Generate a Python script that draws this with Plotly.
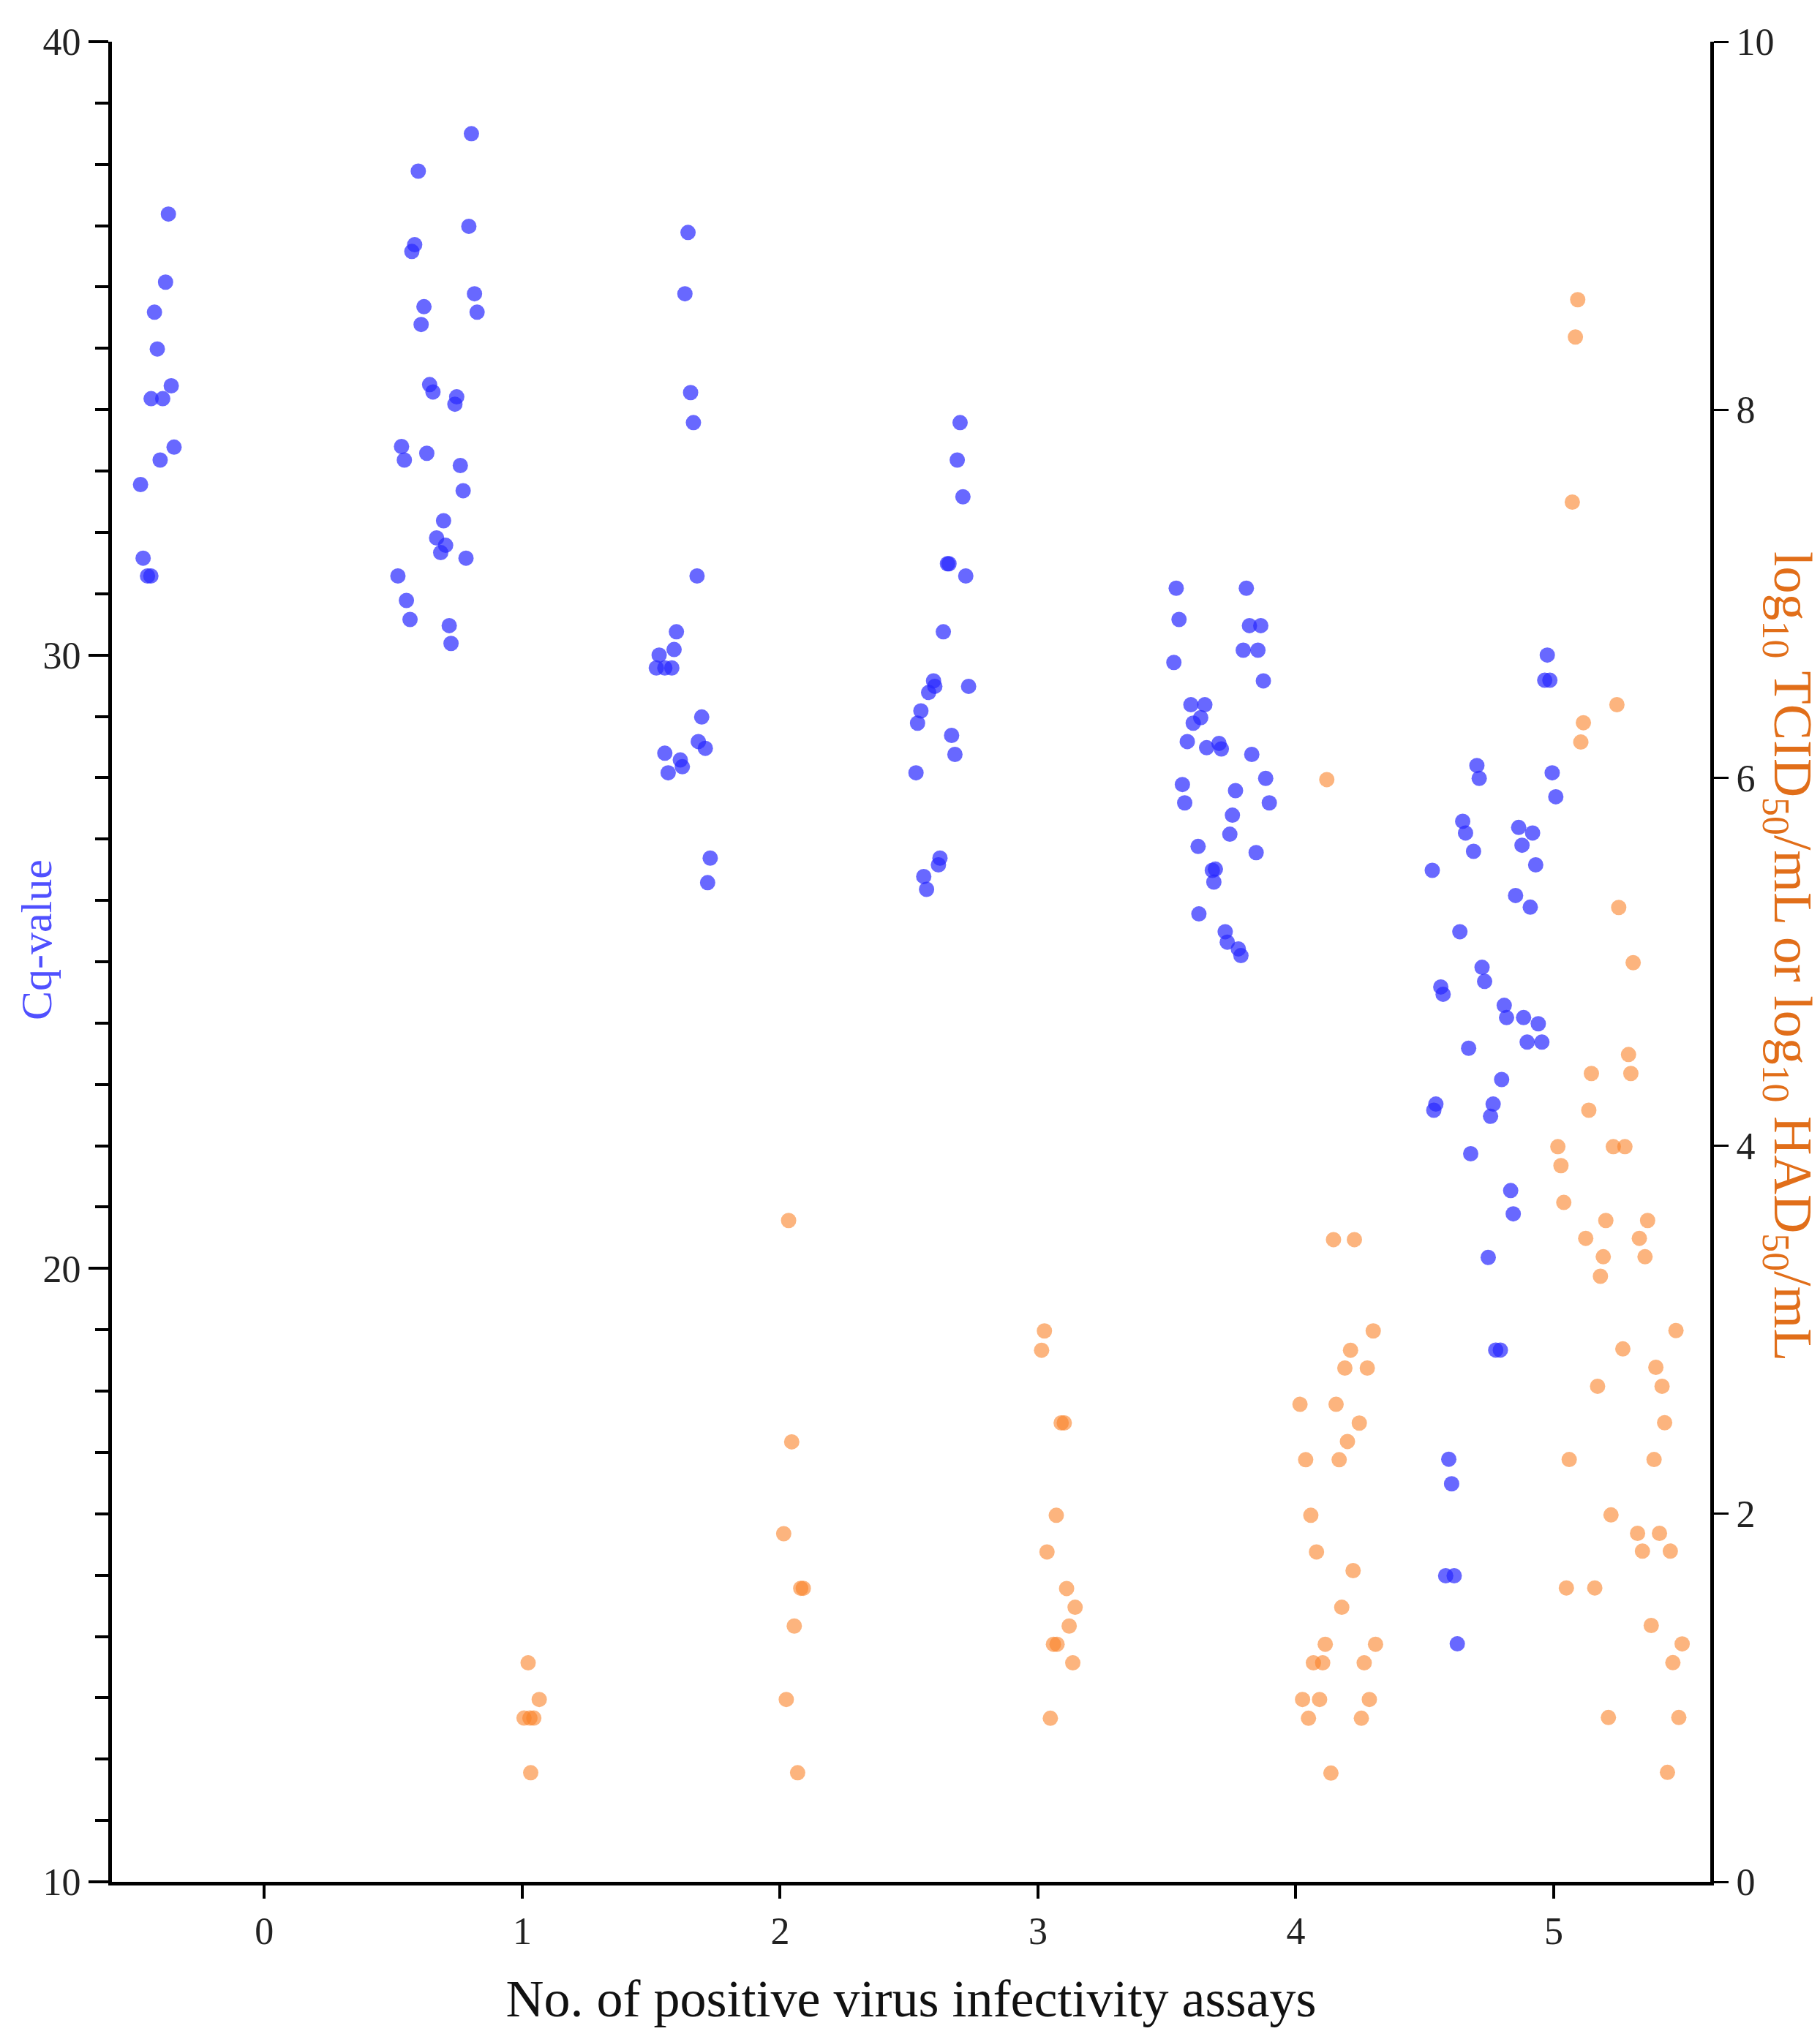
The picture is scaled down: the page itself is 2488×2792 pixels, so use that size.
import plotly.graph_objects as go

# ---------------- Cq-values (left axis), one list pair per jittered group ----------------
cq_x_a = [-0.372, -0.383, -0.426, -0.415, -0.361, -0.439, -0.394, -0.350, -0.404, -0.480, -0.470, -0.453, -0.440]
cq_y_a = [37.19, 36.08, 35.59, 34.99, 34.39, 34.18, 34.18, 33.39, 33.18, 32.78, 31.58, 31.29, 31.29]

cq_x_b = [0.803, 0.597, 0.793, 0.583, 0.572, 0.815, 0.825, 0.619, 0.608, 0.641, 0.654, 0.746, 0.739, 0.532,
          0.543, 0.630, 0.760, 0.771, 0.695, 0.668, 0.703, 0.684, 0.782, 0.518, 0.551, 0.565, 0.717, 0.724]
cq_y_b = [38.50, 37.89, 36.99, 36.69, 36.58, 35.89, 35.59, 35.68, 35.39, 34.41, 34.29, 34.21, 34.09, 33.40,
          33.18, 33.29, 33.09, 32.68, 32.19, 31.91, 31.79, 31.67, 31.58, 31.29, 30.89, 30.58, 30.48, 30.19]

cq_x_c = [1.643, 1.631, 1.653, 1.664, 1.678, 1.598, 1.589, 1.531, 1.520, 1.553, 1.580, 1.696, 1.683, 1.710,
          1.553, 1.613, 1.621, 1.566, 1.729, 1.719]
cq_y_c = [36.89, 35.89, 34.28, 33.79, 31.29, 30.38, 30.09, 30.00, 29.79, 29.79, 29.79, 28.99, 28.59, 28.48,
          28.40, 28.29, 28.18, 28.08, 26.69, 26.29]

cq_x_d = [2.698, 2.687, 2.709, 2.649, 2.655, 2.720, 2.633, 2.595, 2.600, 2.576, 2.731, 2.546, 2.533, 2.665,
          2.678, 2.527, 2.620, 2.614, 2.557, 2.568]
cq_y_d = [33.79, 33.18, 32.58, 31.49, 31.49, 31.29, 30.38, 29.58, 29.49, 29.39, 29.49, 29.09, 28.89, 28.69,
          28.38, 28.08, 26.69, 26.58, 26.39, 26.18]

cq_x_e = [3.536, 3.808, 3.547, 3.820, 3.864, 3.796, 3.853, 3.527, 3.874, 3.593, 3.647, 3.631, 3.602, 3.579,
          3.654, 3.702, 3.711, 3.829, 3.560, 3.883, 3.766, 3.569, 3.897, 3.754, 3.744, 3.621, 3.846, 3.676,
          3.688, 3.682, 3.624, 3.726, 3.734, 3.777, 3.787]
cq_y_e = [31.09, 31.09, 30.58, 30.48, 30.48, 30.08, 30.08, 29.88, 29.58, 29.19, 29.19, 28.98, 28.89, 28.59,
          28.49, 28.56, 28.47, 28.38, 27.89, 27.99, 27.79, 27.59, 27.59, 27.39, 27.08, 26.88, 26.78, 26.49,
          26.51, 26.30, 25.78, 25.49, 25.32, 25.21, 25.10]

cq_x_f = [4.975, 4.965, 4.985, 4.702, 4.711, 4.994, 5.008, 4.647, 4.658, 4.689, 4.529, 4.864, 4.918, 4.877,
          4.930, 4.852, 4.909, 4.636, 4.722, 4.732, 4.562, 4.571, 4.808, 4.817, 4.883, 4.940, 4.897, 4.954,
          4.670, 4.798, 4.543, 4.535, 4.765, 4.755, 4.678, 4.833, 4.843, 4.746, 4.775, 4.793, 4.593, 4.604,
          4.581, 4.614, 4.626]
cq_y_f = [30.00, 29.59, 29.59, 28.20, 27.99, 28.08, 27.69, 27.29, 27.10, 26.80, 26.49, 27.19, 27.10, 26.90,
          26.58, 26.08, 25.89, 25.49, 24.91, 24.68, 24.59, 24.47, 24.29, 24.09, 24.09, 23.99, 23.69, 23.69,
          23.59, 23.08, 22.68, 22.58, 22.68, 22.48, 21.87, 21.27, 20.89, 20.18, 18.67, 18.67, 16.89, 16.49,
          14.99, 14.99, 13.88]

# ---------------- Titres (right axis) ----------------
ti_x_1 = [1.023, 1.066, 1.007, 1.045, 1.030, 1.033]
ti_y_1 = [1.190, 0.991, 0.890, 0.890, 0.890, 0.593]

ti_x_2 = [2.033, 2.045, 2.014, 2.080, 2.090, 2.055, 2.024, 2.068]
ti_y_2 = [3.594, 2.391, 1.892, 1.595, 1.595, 1.390, 0.991, 0.593]

ti_x_3 = [3.025, 3.014, 3.090, 3.102, 3.071, 3.035, 3.111, 3.144, 3.121, 3.060, 3.074, 3.135, 3.048]
ti_y_3 = [2.994, 2.889, 2.494, 2.494, 1.992, 1.793, 1.594, 1.492, 1.390, 1.291, 1.291, 1.190, 0.889]

ti_x_4 = [4.120, 4.146, 4.227, 4.300, 4.212, 4.190, 4.277, 4.016, 4.156, 4.246, 4.200, 4.038, 4.168, 4.058,
          4.080, 4.222, 4.178, 4.114, 4.309, 4.068, 4.104, 4.265, 4.026, 4.092, 4.285, 4.049, 4.254, 4.136]
ti_y_4 = [5.99, 3.49, 3.49, 2.994, 2.889, 2.792, 2.792, 2.595, 2.595, 2.493, 2.393, 2.294, 2.294, 1.992,
          1.793, 1.691, 1.492, 1.291, 1.291, 1.190, 1.190, 1.190, 0.991, 0.991, 0.991, 0.889, 0.889, 0.591]

ti_x_5 = [5.093, 5.084, 5.072, 5.245, 5.115, 5.105, 5.252, 5.308, 5.290, 5.299, 5.146, 5.136, 5.016, 5.231,
          5.276, 5.028, 5.039, 5.202, 5.364, 5.124, 5.332, 5.192, 5.354, 5.181, 5.474, 5.268, 5.396, 5.420,
          5.170, 5.430, 5.060, 5.389, 5.222, 5.325, 5.410, 5.344, 5.452, 5.049, 5.159, 5.378, 5.498, 5.462,
          5.212, 5.485, 5.441]
ti_y_5 = [8.598, 8.395, 7.498, 6.397, 6.299, 6.194, 5.295, 4.995, 4.496, 4.393, 4.393, 4.193, 3.995, 3.995,
          3.995, 3.892, 3.692, 3.594, 3.594, 3.497, 3.497, 3.397, 3.397, 3.291, 2.996, 2.896, 2.796, 2.693,
          2.693, 2.495, 2.295, 2.295, 1.994, 1.894, 1.894, 1.797, 1.797, 1.597, 1.597, 1.393, 1.293, 1.191,
          0.893, 0.893, 0.595]

x_tick_vals = [0, 1, 2, 3, 4, 5]
left_tick_vals = [10, 20, 30, 40]
right_tick_vals = [0, 2, 4, 6, 8, 10]

cq_x = cq_x_a + cq_x_b + cq_x_c + cq_x_d + cq_x_e + cq_x_f
cq_y = cq_y_a + cq_y_b + cq_y_c + cq_y_d + cq_y_e + cq_y_f
ti_x = ti_x_1 + ti_x_2 + ti_x_3 + ti_x_4 + ti_x_5
ti_y = ti_y_1 + ti_y_2 + ti_y_3 + ti_y_4 + ti_y_5

FONT = "Liberation Serif"
BLUE = "rgb(40,40,255)"
ORANGE = "rgb(250,130,40)"

fig = go.Figure()
fig.add_trace(go.Scatter(x=cq_x, y=cq_y, mode="markers", yaxis="y",
                         marker=dict(size=21, color=BLUE, opacity=0.7, line=dict(width=0)),
                         name="Cq-value"))
fig.add_trace(go.Scatter(x=ti_x, y=ti_y, mode="markers", yaxis="y2",
                         marker=dict(size=21, color=ORANGE, opacity=0.6, line=dict(width=0)),
                         name="titre"))

fig.update_layout(
    width=2488, height=2792,
    margin=dict(l=145, r=158, t=49, b=227),
    paper_bgcolor="white", plot_bgcolor="white",
    showlegend=False,
    font=dict(family=FONT, size=52, color="#222"),
    xaxis=dict(
        range=[-0.591, 5.607], tickvals=x_tick_vals, ticks="outside", ticklen=18, tickwidth=4,
        tickcolor="black", showline=True, linewidth=5, linecolor="black", showgrid=False,
        zeroline=False, tickfont=dict(family=FONT, size=52, color="#222"),
        title=dict(text="No. of positive virus infectivity assays",
                   font=dict(family=FONT, size=72, color="#111"), standoff=40),
    ),
    yaxis=dict(
        range=[10, 40], tickvals=left_tick_vals, ticks="outside", ticklen=27, tickwidth=4,
        tickcolor="black", showline=True, linewidth=5, linecolor="black", showgrid=False,
        zeroline=False, tickfont=dict(family=FONT, size=52, color="#222"),
        minor=dict(dtick=1, ticks="outside", ticklen=18, tickwidth=4, tickcolor="black", showgrid=False),
    ),
    yaxis2=dict(
        range=[0, 10], tickvals=right_tick_vals, overlaying="y", side="right", anchor="x",
        ticks="outside", ticklen=20, tickwidth=3, tickcolor="black", showline=True, linewidth=5,
        linecolor="black", showgrid=False, zeroline=False,
        tickfont=dict(family=FONT, size=52, color="#222"),
    ),
    annotations=[
        dict(text="Cq-value", xref="paper", yref="paper", x=-0.047, y=0.512,
             xanchor="center", yanchor="middle", textangle=-90, showarrow=False,
             font=dict(family=FONT, size=60, color="rgb(80,80,255)")),
        dict(text="log<sub>10</sub> TCID<sub>50</sub>/mL or log<sub>10</sub> HAD<sub>50</sub>/mL",
             xref="paper", yref="paper", x=1.0492, y=0.503,
             xanchor="center", yanchor="middle", textangle=90, showarrow=False,
             font=dict(family=FONT, size=74, color="rgb(225,110,25)")),
    ],
)

fig.write_html("out.html")
